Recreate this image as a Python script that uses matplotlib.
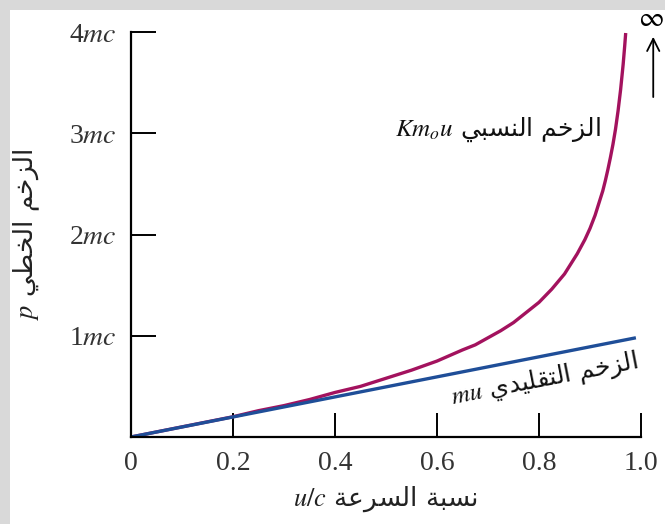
import matplotlib
matplotlib.use("Agg")
import matplotlib.pyplot as plt
from matplotlib.patches import Rectangle

# speed ratio u/c and momenta (in units of mc)
u_rel = [0, 0.05, 0.1, 0.15, 0.2, 0.25, 0.3, 0.35, 0.4, 0.45, 0.5, 0.55, 0.6,
         0.65, 0.675, 0.7, 0.725, 0.75, 0.775, 0.8, 0.825, 0.85, 0.86, 0.875,
         0.89, 0.9, 0.91, 0.92, 0.925, 0.93, 0.935, 0.94, 0.945, 0.95, 0.955,
         0.96, 0.965, 0.968, 0.97]
p_rel = [0, 0.05, 0.10, 0.15, 0.20, 0.26, 0.31, 0.37, 0.44, 0.50, 0.58, 0.66,
         0.75, 0.86, 0.91, 0.98, 1.05, 1.13, 1.23, 1.33, 1.46, 1.61, 1.69,
         1.81, 1.95, 2.06, 2.19, 2.35, 2.43, 2.53, 2.64, 2.76, 2.89, 3.04,
         3.22, 3.43, 3.68, 3.86, 3.99]
u_cls = [0, 0.99]
p_cls = [0, 0.98]

x_ticks = [0, 0.2, 0.4, 0.6, 0.8, 1.0]
x_ticklabels = ["0", "0.2", "0.4", "0.6", "0.8", "1.0"]
y_ticks = [1, 2, 3, 4]
y_ticklabels = ["1$mc$", "2$mc$", "3$mc$", "4$mc$"]

# --- tiny Arabic shaper (matplotlib has no bidi / shaping) ---
# letter: (isolated, final, initial, medial); None = does not join forward
FORMS = {
    "ا": ("\uFE8D", "\uFE8E", None, None),
    "ل": ("\uFEDD", "\uFEDE", "\uFEDF", "\uFEE0"),
    "ز": ("\uFEAF", "\uFEB0", None, None),
    "خ": ("\uFEA5", "\uFEA6", "\uFEA7", "\uFEA8"),
    "م": ("\uFEE1", "\uFEE2", "\uFEE3", "\uFEE4"),
    "ط": ("\uFEC1", "\uFEC2", "\uFEC3", "\uFEC4"),
    "ي": ("\uFEF1", "\uFEF2", "\uFEF3", "\uFEF4"),
    "ن": ("\uFEE5", "\uFEE6", "\uFEE7", "\uFEE8"),
    "س": ("\uFEB1", "\uFEB2", "\uFEB3", "\uFEB4"),
    "ب": ("\uFE8F", "\uFE90", "\uFE91", "\uFE92"),
    "ة": ("\uFE93", "\uFE94", None, None),
    "ر": ("\uFEAD", "\uFEAE", None, None),
    "ع": ("\uFEC9", "\uFECA", "\uFECB", "\uFECC"),
    "ت": ("\uFE95", "\uFE96", "\uFE97", "\uFE98"),
    "ق": ("\uFED5", "\uFED6", "\uFED7", "\uFED8"),
    "د": ("\uFEA9", "\uFEAA", None, None),
}


def shape(text):
    out = []
    for i, ch in enumerate(text):
        if ch not in FORMS:
            out.append(ch)
            continue
        prev = text[i - 1] if i > 0 else ""
        nxt = text[i + 1] if i + 1 < len(text) else ""
        f = FORMS[ch]
        join_prev = prev in FORMS and FORMS[prev][2] is not None
        join_next = nxt in FORMS and f[2] is not None
        if join_prev and join_next:
            out.append(f[3])
        elif join_prev:
            out.append(f[1])
        elif join_next:
            out.append(f[2])
        else:
            out.append(f[0])
    return "".join(out)[::-1]


plt.rcParams["mathtext.fontset"] = "stix"
plt.rcParams["font.family"] = ["Liberation Serif", "DejaVu Sans"]

fig = plt.figure(figsize=(6.65, 5.24), dpi=100)
fig.patch.set_facecolor("#d9d9d9")
fig.patches.append(Rectangle((10 / 665, 0), 1, 1 - 10 / 524,
                             transform=fig.transFigure, facecolor="white",
                             edgecolor="none", zorder=-10))

ax = fig.add_axes([131 / 665, 87 / 524, 510 / 665, 405 / 524])
ax.set_facecolor("none")

ax.plot(u_rel, p_rel, color="#a3125e", lw=2.4, solid_capstyle="butt")
ax.plot(u_cls, p_cls, color="#1f4e98", lw=2.4, solid_capstyle="butt")

ax.set_xlim(0, 1.0)
ax.set_ylim(0, 4)
for s in ["top", "right"]:
    ax.spines[s].set_visible(False)
for s in ["left", "bottom"]:
    ax.spines[s].set_linewidth(1.6)

ax.set_xticks(x_ticks)
ax.set_xticklabels(x_ticklabels)
ax.set_yticks(y_ticks)
ax.set_yticklabels(y_ticklabels)
ax.tick_params(axis="x", direction="in", length=17, width=1.4, pad=10,
               labelsize=20, colors="black", labelcolor="#333333")
ax.tick_params(axis="y", direction="in", length=18, width=1.4, pad=10,
               labelsize=20, labelcolor="#333333")

arab = ["DejaVu Sans"]
ax.set_xlabel("$u/c$ " + shape("نسبة السرعة"), fontsize=19, labelpad=6,
              family=arab, color="#222222")
ax.set_ylabel("$p$ " + shape("الزخم الخطي"), fontsize=19, labelpad=20,
              family=arab, color="#222222")

ax.text(0.72, 3.03, "$Km_ou$ " + shape("الزخم النسبي"), fontsize=18,
        ha="center", va="center", family=arab, color="#111111")
ax.text(0.81, 0.57, "$mu$ " + shape("الزخم التقليدي"), fontsize=18,
        ha="center", va="center", rotation=11, family=arab,
        color="#111111")

ax.annotate("", xy=(1.024, 3.98), xytext=(1.024, 3.33),
            annotation_clip=False,
            arrowprops=dict(arrowstyle="->", lw=1.3, color="black",
                            mutation_scale=22))
ax.text(1.02, 4.12, "$\\infty$", fontsize=20, ha="center", va="center",
        clip_on=False)

fig.savefig("out.png", dpi=100)
